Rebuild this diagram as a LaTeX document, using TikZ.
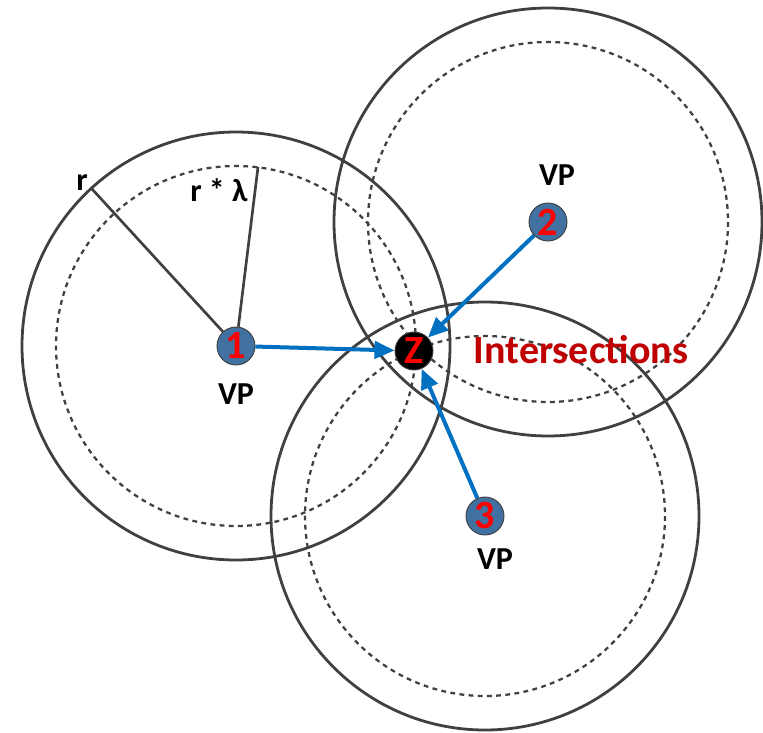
\documentclass[tikz,border=0pt]{standalone}
\usepackage{fontspec}
\setmainfont{Carlito}
\usetikzlibrary{arrows.meta}

\definecolor{vpblue}{RGB}{65,113,160}
\definecolor{pushblue}{RGB}{0,112,192}
\definecolor{ringgray}{RGB}{64,64,64}
\definecolor{hitred}{RGB}{192,0,0}

\begin{document}
\begin{tikzpicture}[x=0.75pt,y=0.75pt,yscale=-1,xscale=1,
	ring/.style={draw=ringgray, line width=2.1pt},
	innerring/.style={draw=ringgray, line width=1.7pt, dash pattern=on 3.6pt off 3.3pt},
	vp/.style={circle, draw=ringgray, line width=0.7pt, fill=vpblue, minimum size=28.5pt, inner sep=0pt, text=red, font=\fontsize{30}{32}\selectfont\bfseries},
	hit/.style={vp, fill=black},
	lbl/.style={anchor=base, inner sep=0pt, font=\fontsize{24}{28}\selectfont\bfseries},
	spoke/.style={draw=ringgray, line width=2pt},
	push/.style={draw=pushblue, line width=3pt, -{Triangle[length=15pt,width=13pt]}}]
	\useasboundingbox (0,0) rectangle (763,732);

	% centres of the three vantage points and the meeting point
	\coordinate (c1) at (236,346);
	\coordinate (c2) at (548,222);
	\coordinate (c3) at (485,516);
	\coordinate (cz) at (414,351);

	% range r (solid) and r*lambda (dashed) around each point
	\foreach \c in {c1,c2,c3} {
		\draw [ring] (\c) circle (214);
		\draw [innerring] (\c) circle (180);
	}

	\coordinate (rOuter) at (92,189);
	\coordinate (rInner) at (258,167);

	\node [vp] (vp1) at (c1) {1};
	\node [vp] (vp2) at (c2) {2};
	\node [vp] (vp3) at (c3) {3};
	\node [hit] (zhit) at (cz) {Z};

	\draw [spoke] (vp1) -- (rOuter);
	\draw [spoke] (vp1) -- (rInner);

	\draw [push] (vp1) -- (zhit);
	\draw [push] (vp2) -- (zhit);
	\draw [push] (vp3) -- (zhit);

	\node [lbl] (lblvp1) at (236,404) {VP};
	\node [lbl] (lblvp2) at (557,185) {VP};
	\node [lbl] (lblvp3) at (495,569) {VP};
	\node [lbl] (lblr) at (82,190) {r};
	\node [lbl] (lblrl) at (219,201) {r * λ};
	\node [lbl, text=hitred, font=\fontsize{30}{34}\selectfont\bfseries] (lblhit) at (581,363) {Intersections};
\end{tikzpicture}
\end{document}
